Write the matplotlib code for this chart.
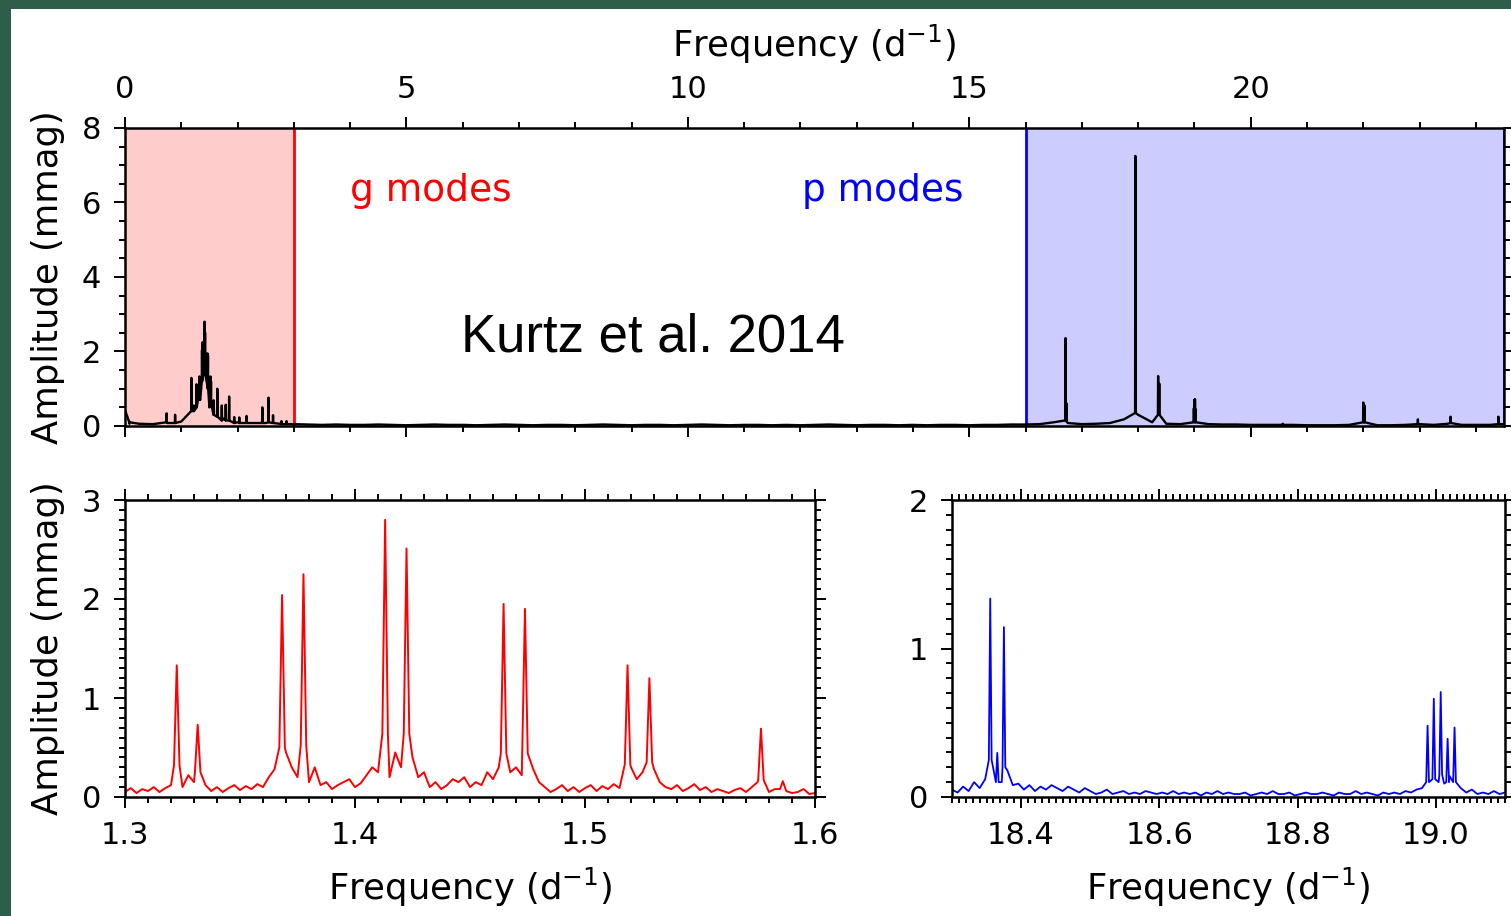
import numpy as np
import matplotlib.pyplot as plt
from matplotlib.patches import Rectangle
from matplotlib.ticker import MultipleLocator

# full spectrum (top panel): noise floor sampled every 0.25 d-1, plus peaks
full_noise_start, full_noise_step = 0.0, 0.25
full_noise = [0.43, 0.06, 0.05, 0.08, 0.12, 0.45, 0.50, 0.20, 0.10, 0.08, 0.08, 0.06, 0.05,
              0.04, 0.03, 0.04, 0.03, 0.03, 0.04, 0.03, 0.02, 0.03, 0.04,
              0.03, 0.03, 0.02, 0.03, 0.04, 0.03, 0.02, 0.03, 0.03, 0.02,
              0.03, 0.04, 0.03, 0.02, 0.03, 0.03, 0.02, 0.03, 0.04, 0.03,
              0.02, 0.03, 0.03, 0.02, 0.03, 0.02, 0.03, 0.04, 0.03, 0.02,
              0.03, 0.03, 0.02, 0.03, 0.02, 0.03, 0.03, 0.02, 0.03, 0.03, 0.04,
              0.04, 0.05, 0.10, 0.08, 0.05, 0.06, 0.08, 0.18, 0.30, 0.10, 0.06,
              0.05, 0.08, 0.05, 0.04, 0.04, 0.03, 0.03, 0.03, 0.03, 0.02, 0.02,
              0.02, 0.03, 0.05, 0.02, 0.02, 0.03, 0.05, 0.03, 0.06, 0.03, 0.03,
              0.03, 0.05]
full_peak_freq = [0.08, 0.74, 0.89, 1.18, 1.22, 1.27, 1.3225, 1.3316, 1.3683, 1.3776, 1.4131,
                  1.4224, 1.4646, 1.4739, 1.5185, 1.528, 1.5765, 1.64, 1.72, 1.79, 1.85,
                  1.94, 2.03, 2.16, 2.44, 2.55, 2.63, 2.78, 2.87,
                  16.71, 16.73, 17.95, 18.355, 18.375, 18.99, 19.00, 19.01, 19.02,
                  20.57, 22.00, 22.02, 22.97, 23.55, 24.40]
full_peak_amp = [0.06, 0.34, 0.30, 1.29, 0.55, 1.12, 1.33, 0.73, 2.04, 2.25, 2.80,
                 2.51, 1.95, 1.90, 1.33, 1.20, 0.69, 1.00, 0.55, 0.57, 0.79,
                 0.24, 0.23, 0.27, 0.50, 0.76, 0.29, 0.13, 0.13,
                 2.36, 0.60, 7.25, 1.34, 1.14, 0.48, 0.70, 0.72, 0.45,
                 0.06, 0.63, 0.55, 0.18, 0.25, 0.25]
full_peak_base = [0.10, 0.10, 0.08, 0.40, 0.40, 0.50, 0.90, 0.70, 1.20, 1.30, 1.50,
                  1.40, 1.10, 1.00, 0.70, 0.60, 0.30, 0.25, 0.15, 0.15, 0.15,
                  0.08, 0.08, 0.08, 0.08, 0.10, 0.08, 0.05, 0.05,
                  0.15, 0.12, 0.35, 0.30, 0.30, 0.10, 0.20, 0.20, 0.10,
                  0.03, 0.10, 0.10, 0.05, 0.08, 0.05]

# g-mode zoom (bottom left)
g_noise_start, g_noise_step = 1.30, 0.0025
g_noise = [0.05, 0.09, 0.04, 0.08, 0.06, 0.10, 0.05, 0.09, 0.12,
           0.20, 0.10, 0.22, 0.15, 0.25, 0.12,
           0.06, 0.10, 0.05, 0.09, 0.12, 0.07, 0.11, 0.08, 0.13, 0.10,
           0.20, 0.28, 0.15, 0.45, 0.30, 0.20, 0.35, 0.15, 0.30, 0.12,
           0.15, 0.08, 0.12, 0.15, 0.18, 0.10, 0.14, 0.22,
           0.30, 0.25, 0.40, 0.20, 0.45, 0.30, 0.35, 0.40, 0.20, 0.25,
           0.10, 0.15, 0.08, 0.12, 0.18, 0.15, 0.20, 0.10, 0.15, 0.12,
           0.25, 0.18, 0.30, 0.40, 0.25, 0.30, 0.22, 0.35, 0.28, 0.15,
           0.10, 0.05, 0.08, 0.12, 0.06, 0.10, 0.05, 0.09, 0.12, 0.06, 0.11, 0.08, 0.13, 0.09,
           0.22, 0.30, 0.18, 0.25, 0.20, 0.28, 0.15, 0.10,
           0.08, 0.12, 0.06, 0.09, 0.13, 0.07, 0.10, 0.05, 0.08, 0.06, 0.04, 0.07, 0.09, 0.05, 0.10, 0.15,
           0.12, 0.05, 0.08, 0.03, 0.06, 0.04, 0.05, 0.08, 0.03, 0.04]
g_peak_freq = [1.3225, 1.3316, 1.3683, 1.3776, 1.4131, 1.4224, 1.4646, 1.4739, 1.5185, 1.5280, 1.5765, 1.5860]
g_peak_amp = [1.33, 0.73, 2.04, 2.25, 2.80, 2.51, 1.95, 1.90, 1.33, 1.20, 0.69, 0.16]
g_peak_base = [0.32, 0.25, 0.50, 0.52, 0.64, 0.64, 0.44, 0.44, 0.33, 0.35, 0.17, 0.08]

# p-mode zoom (bottom right)
p_noise_start, p_noise_step = 18.30, 0.008
p_noise = [0.05, 0.03, 0.07, 0.04, 0.10,
           0.06, 0.12, 0.15, 0.20, 0.10, 0.18, 0.08,
           0.09, 0.05, 0.08, 0.04, 0.07, 0.05, 0.08, 0.06, 0.04, 0.07, 0.05, 0.03, 0.06,
           0.04, 0.02, 0.03, 0.05, 0.02, 0.03, 0.04, 0.02, 0.03, 0.02, 0.04, 0.03, 0.02, 0.03,
           0.02, 0.04, 0.02, 0.03, 0.02, 0.03, 0.01, 0.03, 0.02, 0.04, 0.02, 0.03, 0.02, 0.02,
           0.03, 0.01, 0.02, 0.03, 0.02, 0.04, 0.02, 0.02, 0.03, 0.01, 0.02, 0.03, 0.02, 0.02,
           0.03, 0.02, 0.01, 0.03, 0.02, 0.02, 0.04, 0.02, 0.03, 0.02, 0.01, 0.03, 0.02, 0.03,
           0.02, 0.04, 0.03, 0.05, 0.06,
           0.08, 0.12, 0.10, 0.09, 0.14, 0.10, 0.06,
           0.03, 0.05, 0.02, 0.03, 0.02, 0.04, 0.02, 0.03]
p_peak_freq = [18.3553, 18.3655, 18.3751, 18.988, 18.997, 19.007, 19.017, 19.027]
p_peak_amp = [1.336, 0.297, 1.144, 0.48, 0.662, 0.707, 0.392, 0.468]
p_peak_base = [0.25, 0.10, 0.20, 0.10, 0.12, 0.15, 0.10, 0.10]


def spectrum(start, step, noise, pf, pa, pb, w):
    nf = start + step * np.arange(len(noise))
    na = np.array(noise)
    pf, pa, pb = np.array(pf), np.array(pa), np.array(pb)
    keep = np.ones(len(nf), bool)
    for f in pf:
        keep &= np.abs(nf - f) > w
    x = np.concatenate([nf[keep], pf - w, pf, pf + w])
    y = np.concatenate([na[keep], pb, pa, pb])
    order = np.argsort(x, kind='stable')
    return x[order], y[order]


W, H = 1511, 916
fig = plt.figure(figsize=(W / 100, H / 100), dpi=100, facecolor='#2c5e49')
fig.add_artist(Rectangle((11 / W, 0), 1, 1 - 9 / H, transform=fig.transFigure,
                         facecolor='white', edgecolor='none', zorder=-10))

tick_fs, label_fs = 22, 25.5


def style(ax):
    for s in ax.spines.values():
        s.set_linewidth(1.8)
    ax.tick_params(which='both', direction='out', top=True, right=True, width=1.4,
                   labelsize=tick_fs, pad=9)
    ax.tick_params(which='major', length=8)
    ax.tick_params(which='minor', length=4)


# top panel
ax1 = fig.add_axes([125 / W, 1 - 426 / H, 1379 / W, 298 / H])
x, y = spectrum(full_noise_start, full_noise_step, full_noise,
                full_peak_freq, full_peak_amp, full_peak_base, 0.004)
ax1.axvspan(0, 3, color='red', alpha=0.2, lw=0)
ax1.axvspan(16, 24.5, color='blue', alpha=0.2, lw=0)
ax1.axvline(3, color='red', lw=2)
ax1.axvline(16, color='blue', lw=2)
ax1.axvline(24.5, color='blue', lw=2)
ax1.plot(x, y, color='black', lw=1.7)
ax1.set_xlim(0, 24.5)
ax1.set_ylim(0, 8)
style(ax1)
ax1.tick_params(labelbottom=False, labeltop=True)
ax1.xaxis.set_label_position('top')
ax1.xaxis.set_major_locator(MultipleLocator(5))
ax1.xaxis.set_minor_locator(MultipleLocator(1))
ax1.yaxis.set_major_locator(MultipleLocator(2))
ax1.yaxis.set_minor_locator(MultipleLocator(0.5))
ax1.set_xlabel('Frequency (d$^{-1}$)', fontsize=label_fs, labelpad=13)
ax1.set_ylabel('Amplitude (mmag)', fontsize=label_fs, labelpad=12)
ax1.text(4.0, 6.3, 'g modes', color='red', fontsize=27, va='center')
ax1.text(12.02, 6.3, 'p modes', color='blue', fontsize=27, va='center')
fig.text(653 / W, 1 - 338 / H, 'Kurtz et al. 2014', fontsize=38,
         family='Liberation Sans', ha='center', va='center')

# bottom left, g modes
ax2 = fig.add_axes([125 / W, 1 - 797 / H, 690 / W, 297 / H])
x, y = spectrum(g_noise_start, g_noise_step, g_noise,
                g_peak_freq, g_peak_amp, g_peak_base, 0.0012)
ax2.plot(x, y, color='red', lw=1.4)
ax2.set_xlim(1.3, 1.6)
ax2.set_ylim(0, 3)
style(ax2)
ax2.xaxis.set_major_locator(MultipleLocator(0.1))
ax2.xaxis.set_minor_locator(MultipleLocator(0.01))
ax2.yaxis.set_major_locator(MultipleLocator(1))
ax2.yaxis.set_minor_locator(MultipleLocator(0.1))
ax2.set_xlabel('Frequency (d$^{-1}$)', fontsize=label_fs, labelpad=12)
ax2.set_ylabel('Amplitude (mmag)', fontsize=label_fs, labelpad=12)

# bottom right, p modes
ax3 = fig.add_axes([952 / W, 1 - 797 / H, 553 / W, 297 / H])
x, y = spectrum(p_noise_start, p_noise_step, p_noise,
                p_peak_freq, p_peak_amp, p_peak_base, 0.002)
ax3.plot(x, y, color='blue', lw=1.3)
ax3.set_xlim(18.3, 19.1)
ax3.set_ylim(0, 2)
style(ax3)
ax3.xaxis.set_major_locator(MultipleLocator(0.2))
ax3.xaxis.set_minor_locator(MultipleLocator(0.01))
ax3.yaxis.set_major_locator(MultipleLocator(1))
ax3.yaxis.set_minor_locator(MultipleLocator(0.1))
ax3.set_xlabel('Frequency (d$^{-1}$)', fontsize=label_fs, labelpad=12)

fig.savefig('out.png', dpi=100, facecolor=fig.get_facecolor())
